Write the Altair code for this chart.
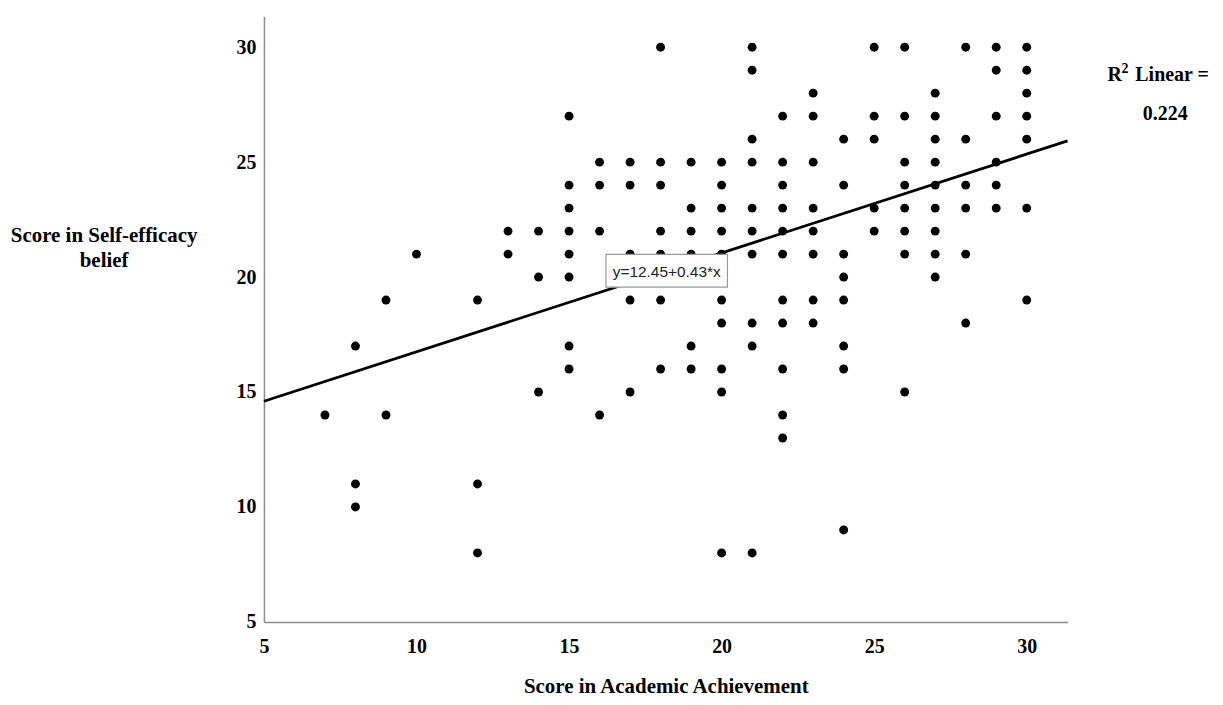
import altair as alt
import pandas as pd

# Score in Academic Achievement (x) and Score in Self-efficacy belief (y)
achievement = (
    [7]
    + [8] * 3
    + [9] * 2
    + [10]
    + [12] * 3
    + [13] * 2
    + [14] * 3
    + [15] * 8
    + [16] * 4
    + [17] * 5
    + [18] * 7
    + [19] * 6
    + [20] * 10
    + [21] * 10
    + [22] * 11
    + [23] * 8
    + [24] * 8
    + [25] * 5
    + [26] * 8
    + [27] * 9
    + [28] * 6
    + [29] * 6
    + [30] * 7
)
self_efficacy = [
    14,
    17, 11, 10,
    19, 14,
    21,
    19, 11, 8,
    22, 21,
    22, 20, 15,
    27, 24, 23, 22, 21, 20, 17, 16,
    25, 24, 22, 14,
    25, 24, 21, 19, 15,
    30, 25, 24, 22, 21, 19, 16,
    25, 23, 22, 21, 17, 16,
    25, 24, 23, 22, 21, 19, 18, 16, 15, 8,
    30, 29, 26, 25, 23, 22, 21, 18, 17, 8,
    27, 25, 24, 23, 22, 21, 19, 18, 16, 14, 13,
    28, 27, 25, 23, 22, 21, 19, 18,
    26, 24, 21, 20, 19, 17, 16, 9,
    30, 27, 26, 23, 22,
    30, 27, 25, 24, 23, 22, 21, 15,
    28, 27, 26, 25, 24, 23, 22, 21, 20,
    30, 26, 24, 23, 21, 18,
    30, 29, 27, 25, 24, 23,
    30, 29, 28, 27, 26, 23, 19,
]

x_ticks = [5, 10, 15, 20, 25, 30]
y_ticks = [5, 10, 15, 20, 25, 30]
axis_min, axis_max = 5, 31.34

intercept, slope = 12.45, 0.43
fit_label = "y=12.45+0.43*x"
fit_label_x = 18.2
r2_value = "0.224"

points = pd.DataFrame({"x": achievement, "y": self_efficacy})
line_df = pd.DataFrame({"x": [axis_min, axis_max]})
label_df = pd.DataFrame({"x": [fit_label_x], "label": [fit_label]})
one = pd.DataFrame({"t": [0]})

serif = "Liberation Serif"

xscale = alt.Scale(domain=[axis_min, axis_max], nice=False, zero=False)
yscale = alt.Scale(domain=[axis_min, axis_max], nice=False, zero=False)

xaxis = alt.Axis(
    values=x_ticks, title="Score in Academic Achievement", grid=False, ticks=False,
    labelPadding=15, titleY=71, titleBaseline="alphabetic", titleFontSize=21,
    labelFontSize=20, labelFlush=False, labelOverlap=False,
)
yaxis = alt.Axis(
    values=y_ticks, title=["Score in Self-efficacy", "belief"], grid=False, ticks=False,
    labelPadding=8, titleAngle=0, titleAlign="center", titleBaseline="alphabetic",
    titleX=-161, titleY=226, titleLineHeight=25, titleFontSize=21,
    labelFontSize=20, labelFlush=False, labelOverlap=False,
)

pts = alt.Chart(points).mark_circle(size=80, color="black", opacity=1).encode(
    x=alt.X("x:Q", scale=xscale, axis=xaxis),
    y=alt.Y("y:Q", scale=yscale, axis=yaxis),
)

fit = (
    alt.Chart(line_df)
    .transform_calculate(y=f"{intercept} + {slope} * datum.x")
    .mark_line(color="black", strokeWidth=2.8)
    .encode(x=alt.X("x:Q", scale=xscale), y=alt.Y("y:Q", scale=yscale))
)

box = (
    alt.Chart(label_df)
    .transform_calculate(y=f"{intercept} + {slope} * datum.x")
    .mark_point(
        shape="M-1,-0.27L1,-0.27L1,0.27L-1,0.27Z",
        size=122 * 122, filled=True, fill="white", stroke="#9a9a9a",
        strokeWidth=1.2, opacity=1,
    )
    .encode(x=alt.X("x:Q", scale=xscale), y=alt.Y("y:Q", scale=yscale))
)

box_text = (
    alt.Chart(label_df)
    .transform_calculate(y=f"{intercept} + {slope} * datum.x")
    .mark_text(font="Liberation Sans", fontSize=15.5, color="#222222",
               align="center", baseline="middle", dy=1)
    .encode(x=alt.X("x:Q", scale=xscale), y=alt.Y("y:Q", scale=yscale), text="label:N")
)

r_txt = alt.Chart(one).mark_text(
    font=serif, fontSize=20, fontWeight="bold", color="black",
    align="left", baseline="alphabetic", text="R",
).encode(x=alt.value(847), y=alt.value(65))

sup_txt = alt.Chart(one).mark_text(
    font=serif, fontSize=14, fontWeight="bold", color="black",
    align="left", baseline="alphabetic", text="2",
).encode(x=alt.value(861), y=alt.value(57))

lin_txt = alt.Chart(one).mark_text(
    font=serif, fontSize=20, fontWeight="bold", color="black",
    align="left", baseline="alphabetic", text="Linear =",
).encode(x=alt.value(875), y=alt.value(65))

val_txt = alt.Chart(one).mark_text(
    font=serif, fontSize=20, fontWeight="bold", color="black",
    align="center", baseline="alphabetic", text=r2_value,
).encode(x=alt.value(905), y=alt.value(104))

chart = (
    alt.layer(pts, fit, box, box_text, r_txt, sup_txt, lin_txt, val_txt)
    .properties(
        width=807, height=608,
        autosize=alt.AutoSizeParams(type="none"),
        padding={"left": 257, "top": 7, "right": 148, "bottom": 74},
        background="white",
    )
    .configure_view(stroke=None)
    .configure_axis(
        domainColor="#8c8c8c", domainWidth=1.5,
        labelFont=serif, labelFontWeight="bold", labelColor="black",
        titleFont=serif, titleFontWeight="bold", titleColor="black",
    )
)

chart.save("out.html", embed_options={"renderer": "svg", "actions": False})
